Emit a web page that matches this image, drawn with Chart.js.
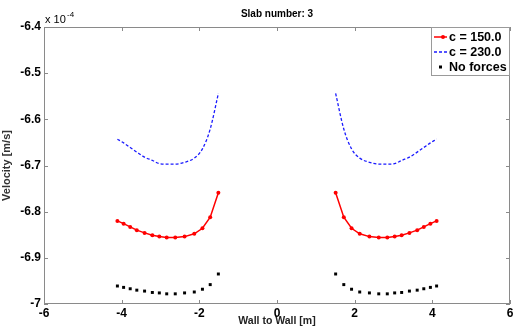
<!DOCTYPE html>
<html>
<head>
<meta charset="utf-8">
<script src="https://cdn.jsdelivr.net/npm/chart.js@4"></script>
<style>
  html, body { margin: 0; padding: 0; background: #fff; }
  #wrap { width: 514px; height: 329px; }
</style>
</head>
<body>
<div id="wrap"><canvas id="graficoSlab"></canvas></div>
<script>
// wall positions [m], left half then right half
const wallX = [-4.11, -3.95, -3.78, -3.61, -3.41, -3.21, -3.03, -2.84, -2.62, -2.38, -2.13, -1.92, -1.72, -1.51,
               1.51, 1.72, 1.92, 2.13, 2.38, 2.62, 2.84, 3.03, 3.21, 3.41, 3.61, 3.78, 3.95, 4.11]

// velocities in units of 1e-4 m/s
const velC150 = [-6.820, -6.826, -6.833, -6.840, -6.846, -6.851, -6.854, -6.856, -6.856, -6.854, -6.848, -6.836, -6.812, -6.759,
                 -6.759, -6.812, -6.836, -6.848, -6.854, -6.856, -6.856, -6.854, -6.851, -6.846, -6.840, -6.833, -6.826, -6.820]
const velC230 = [-6.643, -6.651, -6.661, -6.671, -6.682, -6.689, -6.696, -6.697, -6.697, -6.693, -6.684, -6.664, -6.621, -6.544,
                 -6.544, -6.621, -6.664, -6.684, -6.693, -6.697, -6.697, -6.696, -6.689, -6.682, -6.671, -6.661, -6.651, -6.643]
const velNoForces = [-6.961, -6.964, -6.967, -6.970, -6.972, -6.975, -6.976, -6.978, -6.978, -6.976, -6.974, -6.968, -6.958, -6.935,
                     -6.935, -6.958, -6.968, -6.974, -6.976, -6.978, -6.978, -6.976, -6.975, -6.972, -6.970, -6.967, -6.964, -6.961]

const xTicks = [-6, -4, -2, 0, 2, 4, 6]
const yTicks = [-7, -6.9, -6.8, -6.7, -6.6, -6.5, -6.4]

const tituloGrafico = 'Slab number: 3'
const legendas = ['c = 150.0', 'c = 230.0', 'No forces']

// split into two segments with a gap in the middle
function montaPontos(valores) {
    const pontos = []
    wallX.forEach((x, i) => {
        if (i === 14) pontos.push({ x: 0, y: null })
        pontos.push({ x: x, y: valores[i] })
    })
    return pontos
}

const extras = {
    id: 'extras',
    afterDraw(chart) {
        const ctx = chart.ctx
        const a = chart.chartArea
        const sx = chart.scales.x
        const sy = chart.scales.y
        ctx.save()

        // box and inward ticks
        ctx.strokeStyle = '#8a8a8a'
        ctx.lineWidth = 1
        ctx.strokeRect(a.left + 0.5, a.top + 0.5, a.right - a.left - 1, a.bottom - a.top - 1)
        ctx.beginPath()
        xTicks.forEach(v => {
            const px = Math.round(sx.getPixelForValue(v)) + 0.5
            ctx.moveTo(px, a.bottom); ctx.lineTo(px, a.bottom - 4)
            ctx.moveTo(px, a.top); ctx.lineTo(px, a.top + 4)
        })
        yTicks.forEach(v => {
            const py = Math.round(sy.getPixelForValue(v)) + 0.5
            ctx.moveTo(a.left, py); ctx.lineTo(a.left + 4, py)
            ctx.moveTo(a.right, py); ctx.lineTo(a.right - 4, py)
        })
        ctx.stroke()

        // title
        ctx.fillStyle = '#000'
        ctx.font = 'bold 10px "Liberation Sans", Arial, sans-serif'
        ctx.textAlign = 'center'
        ctx.textBaseline = 'middle'
        ctx.fillText(tituloGrafico, (a.left + a.right) / 2, 14)

        // exponent label
        ctx.textAlign = 'left'
        ctx.font = '11px "Liberation Sans", Arial, sans-serif'
        ctx.fillText('x 10', a.left + 1, 20)
        ctx.font = '8px "Liberation Sans", Arial, sans-serif'
        ctx.fillText('-4', a.left + 23, 15)

        // legend
        const lx = a.right - 79, ly = a.top, lw = 79, lh = 49
        ctx.fillStyle = '#fff'
        ctx.fillRect(lx, ly, lw, lh)
        ctx.strokeStyle = '#9a9a9a'
        ctx.strokeRect(lx + 0.5, ly + 0.5, lw - 1, lh - 1)
        const linhas = [ly + 10, ly + 25, ly + 40]
        ctx.font = 'bold 12.5px "Liberation Sans", Arial, sans-serif'
        chart.data.datasets.forEach((ds, i) => {
            const y = linhas[i]
            ctx.strokeStyle = ds.borderColor
            ctx.lineWidth = ds.borderWidth
            ctx.setLineDash(ds.borderDash || [])
            if (ds.showLine !== false) {
                ctx.beginPath()
                ctx.moveTo(lx + 3, y); ctx.lineTo(lx + 16, y)
                ctx.stroke()
            }
            ctx.setLineDash([])
            ctx.fillStyle = ds.pointBackgroundColor
            if (ds.pointRadius > 0) {
                if (ds.pointStyle === 'rect') {
                    ctx.fillRect(lx + 8, y - 1.5, 3, 3)
                } else {
                    ctx.beginPath()
                    ctx.arc(lx + 12, y, ds.pointRadius, 0, Math.PI * 2)
                    ctx.fill()
                }
            }
            ctx.fillStyle = '#000'
            ctx.textBaseline = 'middle'
            ctx.fillText(legendas[i], lx + 18, y + 1)
        })
        ctx.restore()
    }
}

const graficoSlab = new Chart(document.getElementById('graficoSlab'), {
    type: 'line',
    data: {
        datasets: [{
            label: legendas[0],
            data: montaPontos(velC150),
            borderColor: '#ff0000',
            backgroundColor: '#ff0000',
            pointBackgroundColor: '#ff0000',
            borderWidth: 1.5,
            pointRadius: 2,
            pointBorderWidth: 0,
            spanGaps: false
        }, {
            label: legendas[1],
            data: montaPontos(velC230),
            borderColor: '#1a1aff',
            backgroundColor: '#1a1aff',
            pointBackgroundColor: '#1a1aff',
            borderWidth: 1.3,
            borderDash: [3, 2],
            pointRadius: 0,
            tension: 0.3,
            cubicInterpolationMode: 'monotone',
            spanGaps: false
        }, {
            label: legendas[2],
            data: montaPontos(velNoForces),
            borderColor: '#000',
            backgroundColor: '#000',
            pointBackgroundColor: '#000',
            borderWidth: 1,
            showLine: false,
            pointStyle: 'rect',
            pointRadius: 2.1,
            pointBorderWidth: 0
        }]
    },
    options: {
        responsive: true,
        maintainAspectRatio: false,
        animation: false,
        layout: { padding: { top: 27, right: 2, left: 0, bottom: 0 } },
        plugins: {
            legend: { display: false },
            tooltip: { enabled: false }
        },
        scales: {
            x: {
                type: 'linear',
                min: -6,
                max: 6,
                border: { display: false },
                grid: { display: false, drawTicks: false },
                afterBuildTicks: (scale) => { scale.ticks = xTicks.map(v => ({ value: v })) },
                afterFit: (scale) => { scale.height = 25; scale.paddingLeft = 0; scale.paddingRight = 0 },
                ticks: {
                    padding: 2,
                    color: '#000',
                    font: { family: '"Liberation Sans", Arial, sans-serif', size: 12, weight: 'bold' },
                    maxRotation: 0,
                    callback: (v) => String(v)
                },
                title: {
                    display: true,
                    text: 'Wall to Wall [m]',
                    color: '#222',
                    padding: { top: 0, bottom: 2 },
                    font: { family: '"Liberation Sans", Arial, sans-serif', size: 10.5, weight: 'bold' }
                }
            },
            y: {
                type: 'linear',
                min: -7,
                max: -6.4,
                border: { display: false },
                grid: { display: false, drawTicks: false },
                afterBuildTicks: (scale) => { scale.ticks = yTicks.map(v => ({ value: v })) },
                afterFit: (scale) => { scale.width = 44; scale.paddingTop = 0; scale.paddingBottom = 0 },
                ticks: {
                    padding: 3,
                    color: '#000',
                    font: { family: '"Liberation Sans", Arial, sans-serif', size: 12, weight: 'bold' },
                    callback: (v) => Number.isInteger(v) ? String(v) : v.toFixed(1)
                },
                title: {
                    display: true,
                    text: 'Velocity [m/s]',
                    color: '#333',
                    padding: { top: 0, bottom: 0 },
                    font: { family: '"Liberation Sans", Arial, sans-serif', size: 11, weight: 'bold' }
                }
            }
        }
    },
    plugins: [extras]
});
</script>
</body>
</html>
